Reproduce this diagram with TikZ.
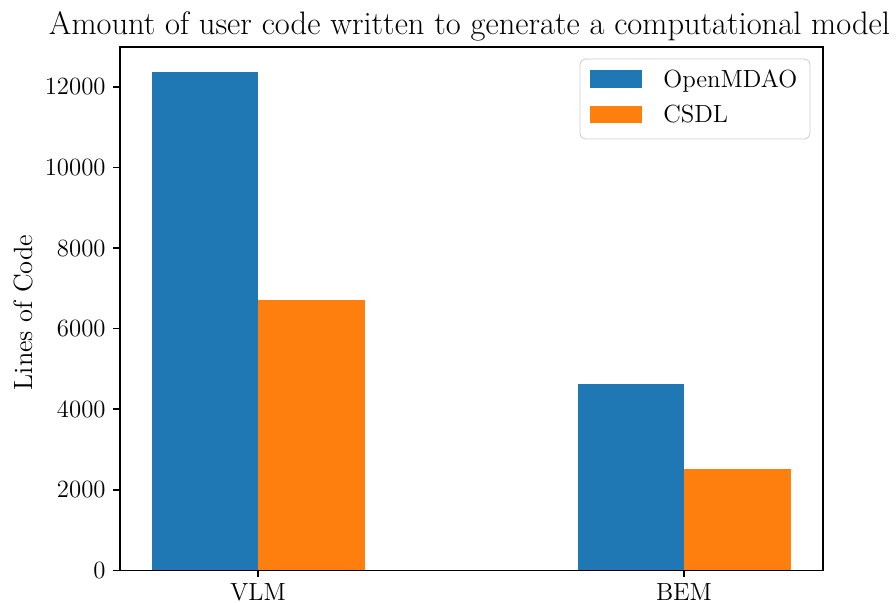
\documentclass[tikz,border=0pt]{standalone}
\usepackage{graphicx}
\definecolor{mplblue}{HTML}{1F77B4}
\definecolor{mplorange}{HTML}{FF7F0E}
\begin{document}
\begin{tikzpicture}[x=0.5pt, y=-0.5pt,
  ticklbl/.style={font=\fontsize{12.4}{15}\selectfont, inner sep=0pt},
  axline/.style={line width=0.8pt}]
\useasboundingbox (0,0) rectangle (896,603);

\node[anchor=base, inner sep=0pt, font=\fontsize{15}{18}\selectfont] (title) at (469.5,35) {\resizebox{420.5pt}{!}{Amount of user code written to generate a computational model}};

% bars
\fill[mplblue]   (152,72)    rectangle (258,570.5);
\fill[mplorange] (258,300)   rectangle (364.5,570.5);
\fill[mplblue]   (577.5,384) rectangle (684,570.5);
\fill[mplorange] (684,469)   rectangle (790.5,570.5);

% axes
\draw[axline] (120,47) rectangle (823,570.5);

\draw[axline] (113,570.5) -- (120,570.5);
\draw[axline] (113,489.9) -- (120,489.9);
\draw[axline] (113,409.3) -- (120,409.3);
\draw[axline] (113,328.7) -- (120,328.7);
\draw[axline] (113,248.1) -- (120,248.1);
\draw[axline] (113,167.5) -- (120,167.5);
\draw[axline] (113,86.9) -- (120,86.9);

\node[ticklbl, anchor=east] (y0)  at (106,570.5) {0};
\node[ticklbl, anchor=east] (y2)  at (106,489.9) {2000};
\node[ticklbl, anchor=east] (y4)  at (106,409.3) {4000};
\node[ticklbl, anchor=east] (y6)  at (106,328.7) {6000};
\node[ticklbl, anchor=east] (y8)  at (106,248.1) {8000};
\node[ticklbl, anchor=east] (y10) at (106,167.5) {10000};
\node[ticklbl, anchor=east] (y12) at (106,86.9)  {12000};

\draw[axline] (258,570.5) -- (258,577.5);
\draw[axline] (684,570.5) -- (684,577.5);
\node[ticklbl, anchor=north] (vlm) at (258,583) {VLM};
\node[ticklbl, anchor=north] (bem) at (684,583) {BEM};

\node[inner sep=0pt, font=\fontsize{13.2}{16}\selectfont, rotate=90] (ylabel) at (23,312.5) {Lines of Code};

% legend
\draw[black!20, fill=white, rounded corners=3pt] (580,59) rectangle (810,139);
\fill[mplblue]   (590,70)  rectangle (642,88);
\fill[mplorange] (590,106) rectangle (642,123);
\node[ticklbl, anchor=base west] (leg1) at (663,88)  {OpenMDAO};
\node[ticklbl, anchor=base west] (leg2) at (663,123) {CSDL};
\end{tikzpicture}
\end{document}
